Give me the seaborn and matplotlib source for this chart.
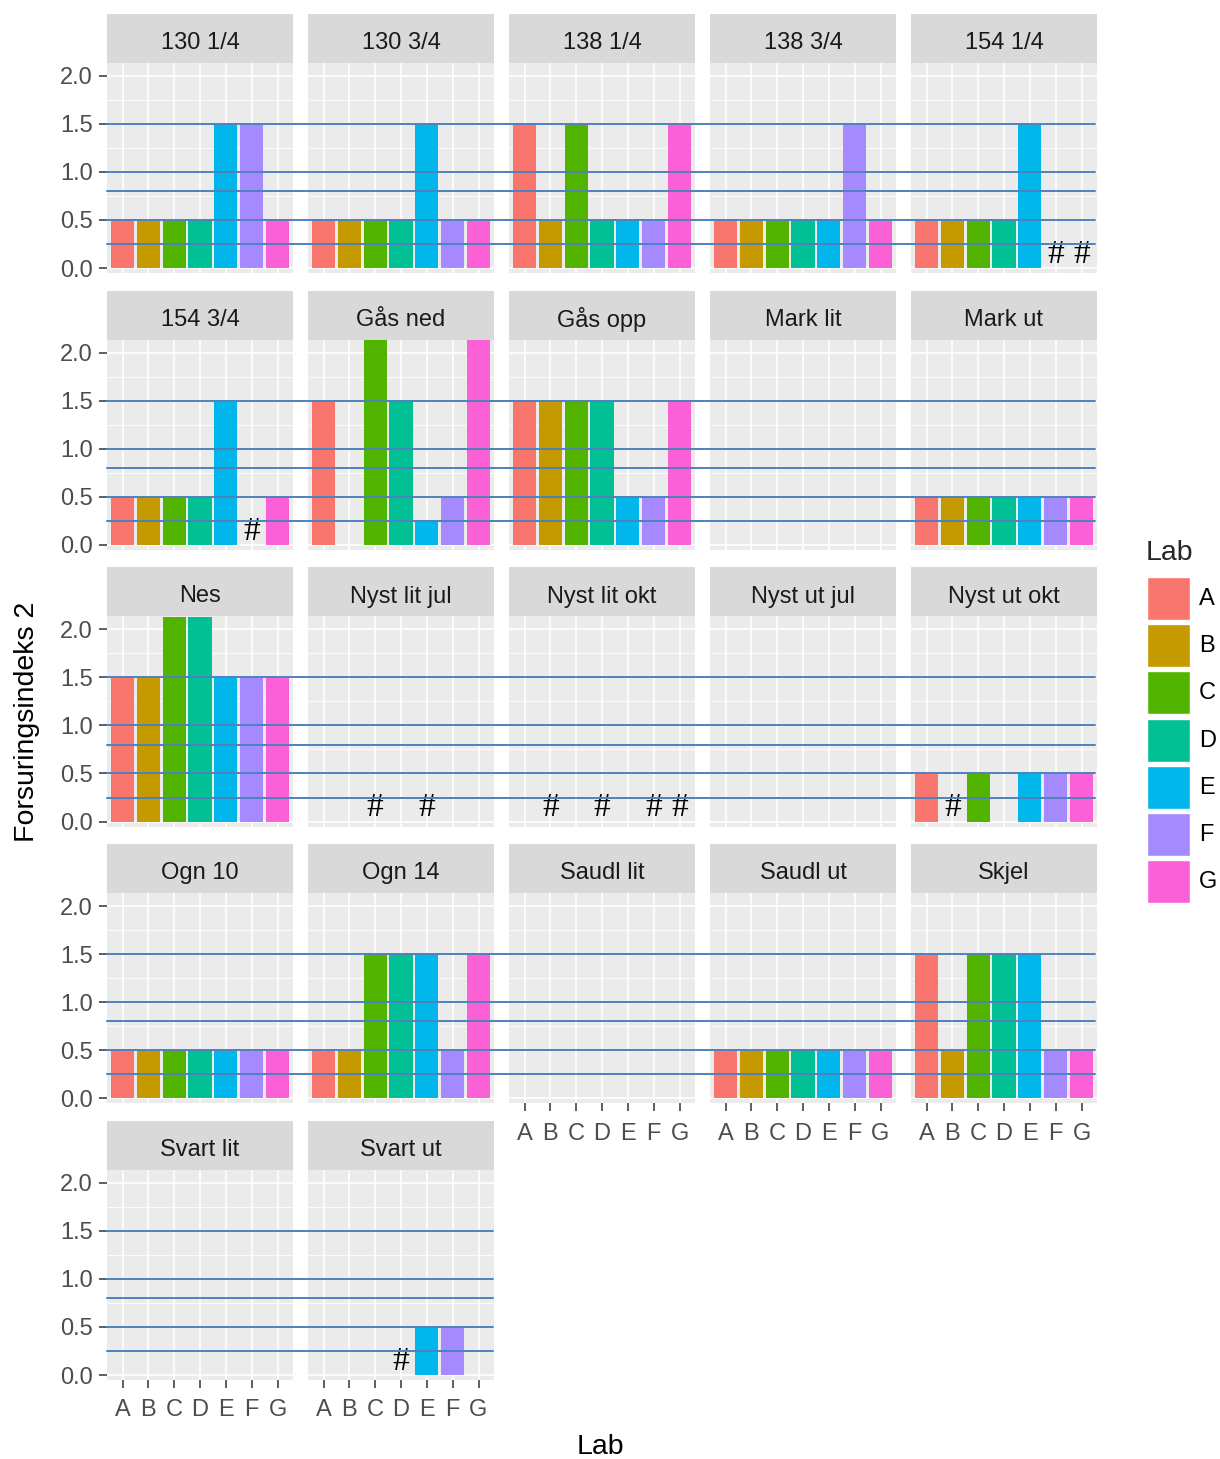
import numpy as np
import pandas as pd
import seaborn as sns
import matplotlib.pyplot as plt
import matplotlib.transforms as mtransforms
from matplotlib.lines import Line2D
from matplotlib.patches import Rectangle

# data (NaN = no bar)
labs = ['A', 'B', 'C', 'D', 'E', 'F', 'G']
farger = ['#F8766D', '#C49A00', '#53B400', '#00C094', '#00B6EB', '#A58AFF', '#FB61D7']
nan = np.nan

steder = ['130 1/4', '130 3/4', '138 1/4', '138 3/4', '154 1/4',
          '154 3/4', 'Gås ned', 'Gås opp', 'Mark lit', 'Mark ut',
          'Nes', 'Nyst lit jul', 'Nyst lit okt', 'Nyst ut jul', 'Nyst ut okt',
          'Ogn 10', 'Ogn 14', 'Saudl lit', 'Saudl ut', 'Skjel',
          'Svart lit', 'Svart ut']

verdier = [
    [0.5, 0.5, 0.5, 0.5, 1.5, 1.5, 0.5],
    [0.5, 0.5, 0.5, 0.5, 1.5, 0.5, 0.5],
    [1.5, 0.5, 1.5, 0.5, 0.5, 0.5, 1.5],
    [0.5, 0.5, 0.5, 0.5, 0.5, 1.5, 0.5],
    [0.5, 0.5, 0.5, 0.5, 1.5, nan, nan],
    [0.5, 0.5, 0.5, 0.5, 1.5, nan, 0.5],
    [1.5, nan, 2.13, 1.5, 0.25, 0.5, 2.13],
    [1.5, 1.5, 1.5, 1.5, 0.5, 0.5, 1.5],
    [nan, nan, nan, nan, nan, nan, nan],
    [0.5, 0.5, 0.5, 0.5, 0.5, 0.5, 0.5],
    [1.5, 1.5, 2.13, 2.13, 1.5, 1.5, 1.5],
    [nan, nan, nan, nan, nan, nan, nan],
    [nan, nan, nan, nan, nan, nan, nan],
    [nan, nan, nan, nan, nan, nan, nan],
    [0.5, nan, 0.5, nan, 0.5, 0.5, 0.5],
    [0.5, 0.5, 0.5, 0.5, 0.5, 0.5, 0.5],
    [0.5, 0.5, 1.5, 1.5, 1.5, 0.5, 1.5],
    [nan, nan, nan, nan, nan, nan, nan],
    [0.5, 0.5, 0.5, 0.5, 0.5, 0.5, 0.5],
    [1.5, 0.5, 1.5, 1.5, 1.5, 0.5, 0.5],
    [nan, nan, nan, nan, nan, nan, nan],
    [nan, nan, nan, nan, 0.5, 0.5, nan],
]

# '#' markers (sted, lab)
hash_merker = [('154 1/4', 'F'), ('154 1/4', 'G'), ('154 3/4', 'F'),
               ('Nyst lit jul', 'C'), ('Nyst lit jul', 'E'),
               ('Nyst lit okt', 'B'), ('Nyst lit okt', 'D'),
               ('Nyst lit okt', 'F'), ('Nyst lit okt', 'G'),
               ('Nyst ut okt', 'B'), ('Svart ut', 'D')]

grenser = [0.25, 0.5, 0.8, 1.0, 1.5]

rows = []
for s, v in zip(steder, verdier):
    for l, y in zip(labs, v):
        rows.append({'Sted': s, 'Lab': l, 'Verdi': y})
df = pd.DataFrame(rows)

sns.set_theme(style='darkgrid')
plt.rcParams['font.family'] = ['Liberation Sans', 'DejaVu Sans']

W, H = 1220, 1459
fig = plt.figure(figsize=(W / 100, H / 100), dpi=100)
fig.patch.set_facecolor('white')

tick_fs = 17
axes = []
for i, sted in enumerate(steder):
    r, c = divmod(i, 5)
    x0 = 107 + 201 * c
    top = 63 + 276.75 * r
    ax = fig.add_axes([x0 / W, 1 - (top + 210) / H, 186 / W, 210 / H])
    ax.set_facecolor('#EBEBEB')
    sub = df[(df['Sted'] == sted) & df['Verdi'].notna()]
    if len(sub):
        sns.barplot(data=sub, x='Lab', y='Verdi', hue='Lab', order=labs, hue_order=labs,
                    palette=farger, dodge=False, width=0.9, errorbar=None, legend=False,
                    saturation=1, linewidth=0, ax=ax)
    for s, l in hash_merker:
        if s == sted:
            ax.text(labs.index(l), 0.14, '#', ha='center', va='center', fontsize=24,
                    color='black', family='Liberation Serif')
    ax.set_xlim(-0.6, 6.6)
    ax.set_ylim(-0.052, 2.135)
    ax.set_xticks(range(7))
    ax.set_xticklabels(labs)
    ax.set_yticks([0, 0.5, 1.0, 1.5, 2.0])
    ax.set_yticklabels(['0.0', '0.5', '1.0', '1.5', '2.0'])
    ax.set_yticks([0.25, 0.75, 1.25, 1.75], minor=True)
    ax.grid(which='major', color='white', lw=1.2)
    ax.grid(which='minor', axis='y', color='white', lw=0.6)
    ax.set_axisbelow(True)
    for sp in ax.spines.values():
        sp.set_visible(False)
    ax.set_xlabel('')
    ax.set_ylabel('')
    show_x = (r == 4) or (r == 3 and c >= 2)
    ax.tick_params(axis='x', which='major', bottom=show_x, labelbottom=show_x,
                   length=6, width=1.1, color='#333333', labelcolor='#4D4D4D',
                   labelsize=tick_fs, pad=8)
    ax.tick_params(axis='y', which='major', left=(c == 0), labelleft=(c == 0),
                   length=6, width=1.1, color='#333333', labelcolor='#4D4D4D',
                   labelsize=tick_fs, pad=4)
    ax.tick_params(which='minor', left=False, bottom=False)
    axes.append(ax)

    # strip
    fig.add_artist(Rectangle((x0 / W, 1 - top / H), 186 / W, 49 / H,
                             transform=fig.transFigure, facecolor='#D9D9D9',
                             edgecolor='none'))
    fig.text((x0 + 93) / W, 1 - (top - 20) / H, sted, ha='center', va='center',
             fontsize=tick_fs, color='#1A1A1A')

# blue threshold lines across each row
for r in range(5):
    ax0 = axes[5 * r]
    xend = 1095 if r < 4 else 493
    trans = mtransforms.blended_transform_factory(fig.transFigure, ax0.transData)
    for g in grenser:
        fig.add_artist(Line2D([107 / W, xend / W], [g, g], transform=trans,
                              color='#4F81BD', lw=1.4))

# axis titles
fig.text(600 / W, 1 - 1447 / H, 'Lab', ha='center', va='center', fontsize=20.5,
         color='black')
fig.text(27 / W, 1 - 722 / H, 'Forsuringsindeks 2', ha='center', va='center',
         rotation=90, fontsize=20.5, color='black')

# legend
fig.text(1146 / W, 1 - 553 / H, 'Lab', ha='left', va='center', fontsize=20.5)
for k, (l, f) in enumerate(zip(labs, farger)):
    ytop = 577 + 47.2 * k
    fig.add_artist(Rectangle((1147 / W, 1 - (ytop + 43) / H), 43 / W, 43 / H,
                             transform=fig.transFigure, facecolor=f,
                             edgecolor='white', lw=1))
    fig.text(1199 / W, 1 - (ytop + 22) / H, l, ha='left', va='center',
             fontsize=tick_fs, color='black')

fig.savefig('out.png', dpi=100)
